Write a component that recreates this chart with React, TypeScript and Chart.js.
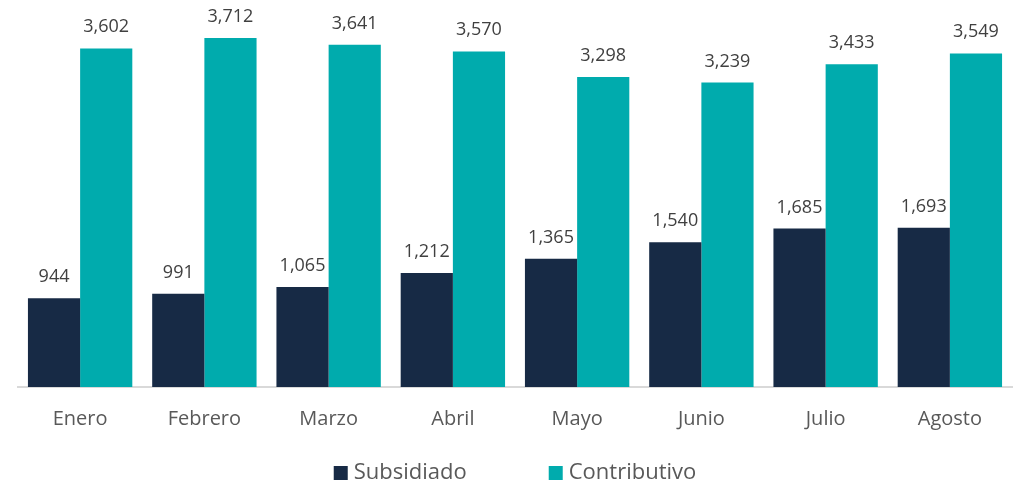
import React, { useEffect, useRef } from "react";
import { Chart, registerables } from "chart.js";

Chart.register(...registerables);

const months = ["Enero", "Febrero", "Marzo", "Abril", "Mayo", "Junio", "Julio", "Agosto"];
const subsidiado = [944, 991, 1065, 1212, 1365, 1540, 1685, 1693];
const contributivo = [3602, 3712, 3641, 3570, 3298, 3239, 3433, 3549];
const seriesNames = ["Subsidiado", "Contributivo"];
const seriesColors = ["#172A45", "#00ABAD"];

const FONT = "'Open Sans', 'DejaVu Sans', sans-serif";

const fmt = (v: number) => v.toLocaleString("en-US");

const labelPlugin = {
  id: "barLabels",
  afterDatasetsDraw(chart: any) {
    const ctx = chart.ctx;
    ctx.save();
    ctx.font = `18px ${FONT}`;
    ctx.fillStyle = "#404040";
    ctx.textAlign = "center";
    ctx.textBaseline = "alphabetic";
    chart.data.datasets.forEach((ds: any, i: number) => {
      const meta = chart.getDatasetMeta(i);
      meta.data.forEach((el: any, j: number) => {
        ctx.fillText(fmt(ds.data[j]), el.x, el.y - 16);
      });
    });
    ctx.restore();
  },
};

const legendPlugin = {
  id: "customLegend",
  afterDraw(chart: any) {
    const ctx = chart.ctx;
    const area = chart.chartArea;
    ctx.save();
    ctx.font = `22px ${FONT}`;
    const box = 14;
    const gap = 6;
    const spacing = 82;
    const items = chart.data.datasets.map((ds: any) => ({
      text: ds.label,
      color: ds.backgroundColor,
      w: ctx.measureText(ds.label).width,
    }));
    const total =
      items.reduce((s: number, it: any) => s + box + gap + it.w, 0) + spacing * (items.length - 1);
    let x = (area.left + area.right) / 2 - total / 2;
    const cy = 473;
    items.forEach((it: any) => {
      ctx.fillStyle = it.color;
      ctx.fillRect(x, cy - box / 2, box, box);
      ctx.fillStyle = "#595959";
      ctx.textAlign = "left";
      ctx.textBaseline = "middle";
      ctx.fillText(it.text, x + box + gap, cy);
      x += box + gap + it.w + spacing;
    });
    ctx.restore();
  },
};

export default function App() {
  const ref = useRef<HTMLCanvasElement | null>(null);

  useEffect(() => {
    if (!ref.current) return;
    const chart = new Chart(ref.current, {
      type: "bar",
      data: {
        labels: months,
        datasets: [
          {
            label: seriesNames[0],
            data: subsidiado,
            backgroundColor: seriesColors[0],
            categoryPercentage: 0.84,
            barPercentage: 1,
          },
          {
            label: seriesNames[1],
            data: contributivo,
            backgroundColor: seriesColors[1],
            categoryPercentage: 0.84,
            barPercentage: 1,
          },
        ],
      },
      options: {
        animation: false,
        responsive: true,
        maintainAspectRatio: false,
        layout: { padding: { left: 18, right: 8, top: 11, bottom: 35 } },
        plugins: {
          legend: { display: false },
          tooltip: { enabled: false },
        },
        scales: {
          x: {
            grid: { display: false, drawTicks: false },
            border: { display: true, color: "#D9D9D9", width: 2 },
            ticks: {
              color: "#595959",
              font: { family: FONT, size: 20, lineHeight: 1.2 },
              padding: 20,
              maxRotation: 0,
            },
          },
          y: {
            display: false,
            min: 0,
            max: 4000,
          },
        },
      },
      plugins: [labelPlugin, legendPlugin],
    });
    return () => chart.destroy();
  }, []);

  return (
    <div style={{ position: "fixed", left: 0, top: 0, width: 1020, height: 486, background: "#fff" }}>
      <canvas ref={ref} />
    </div>
  );
}
